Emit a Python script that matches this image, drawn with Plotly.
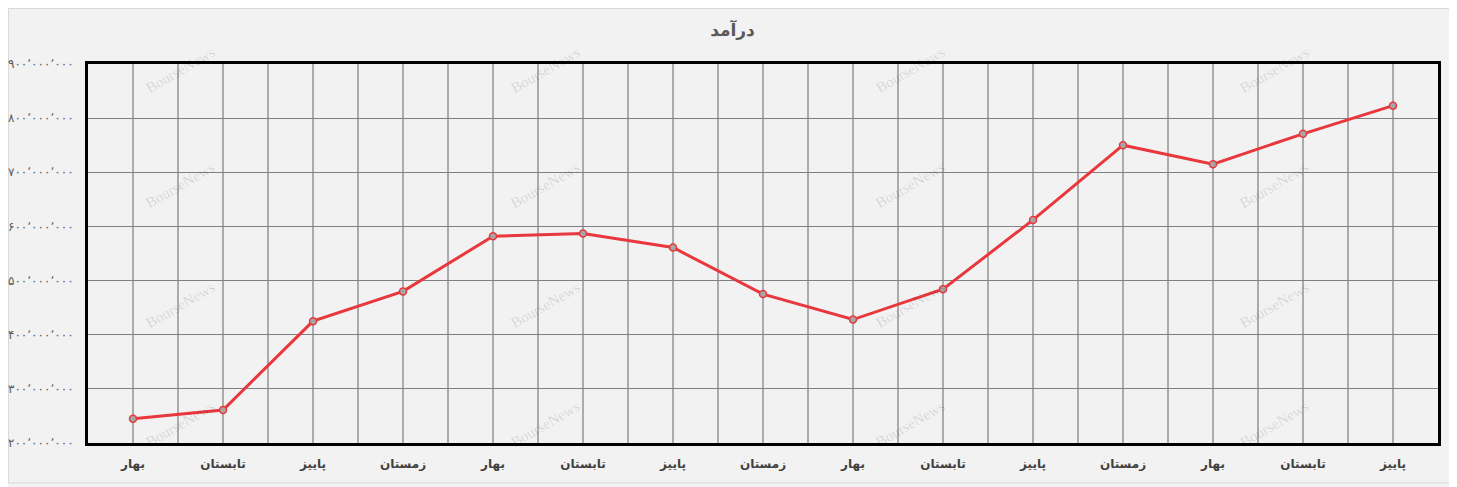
import plotly.graph_objects as go

title_text = "درآمد"
categories = ["بهار", "تابستان", "پاییز", "زمستان",
              "بهار", "تابستان", "پاییز", "زمستان",
              "بهار", "تابستان", "پاییز",
              "زمستان", "بهار", "تابستان", "پاییز"]
revenue = [245, 261, 425, 480, 582, 587, 561, 475, 428, 484, 612, 750, 715, 771, 823]  # millions
revenue = [v * 1_000_000 for v in revenue]
y_tick_values = [200, 300, 400, 500, 600, 700, 800, 900]
y_tick_values = [v * 1_000_000 for v in y_tick_values]

fa_digits = str.maketrans("0123456789", "۰۱۲۳۴۵۶۷۸۹")


def fa_num(v):
    return f"{v:,}".replace(",", "٬").translate(fa_digits)


y_tick_text = [fa_num(v) for v in y_tick_values]
x_pos = list(range(len(categories)))

fig = go.Figure()
fig.add_trace(go.Scatter(
    x=x_pos, y=revenue, mode="lines+markers",
    line=dict(color="#e8383d", width=3),
    marker=dict(size=7, color="#a6a6a6", line=dict(color="#e8383d", width=1.5)),
    showlegend=False, hoverinfo="y",
))

# watermark
wm_x = [0.0685, 0.339, 0.609, 0.879]
wm_y = [0.985, 0.68, 0.365, 0.05]
for yy in wm_y:
    for xx in wm_x:
        fig.add_annotation(x=xx, y=yy, xref="paper", yref="paper", text="BourseNews",
                           showarrow=False, textangle=-30, xanchor="center", yanchor="middle",
                           font=dict(family="Liberation Serif", size=15, color="rgba(0,0,0,0.13)"))

fig.update_layout(
    width=1449, height=479,
    margin=dict(l=80, r=19, t=56, b=44),
    paper_bgcolor="#f2f2f2", plot_bgcolor="#f2f2f2",
    title=dict(text=f"<b>{title_text}</b>", x=0.5, xref="container", xanchor="center",
               y=0.954, yref="container", yanchor="middle",
               font=dict(family="DejaVu Sans", size=17, color="#595959")),
    xaxis=dict(range=[-0.5, len(categories) - 0.5], tickvals=x_pos, ticktext=categories,
               showgrid=True, gridcolor="#ababab", gridwidth=2,
               minor=dict(showgrid=True, gridcolor="#ababab", gridwidth=2, dtick=1, tick0=0.5),
               zeroline=False, showline=True, linecolor="black", linewidth=3, mirror=True,
               ticks="", ticklabelstandoff=8, automargin=False,
               tickfont=dict(family="DejaVu Sans", size=12, color="#404040", weight="bold")),
    yaxis=dict(range=[200_000_000, 900_000_000], tickvals=y_tick_values, ticktext=y_tick_text,
               showgrid=True, gridcolor="#808080", gridwidth=1.3, zeroline=False,
               showline=True, linecolor="black", linewidth=3, mirror=True,
               ticks="", ticklabelstandoff=9, automargin=False,
               tickfont=dict(family="DejaVu Sans", size=12, color="#595959")),
    shapes=[dict(type="rect", xref="paper", yref="paper",
                 x0=(8.5 - 88) / 1350, x1=(1452 - 88) / 1350,
                 y0=(443 - 483) / 379, y1=(443 - 8.5) / 379,
                 line=dict(color="#d9d9d9", width=1), layer="below")],
)

fig.write_html("out.html")
